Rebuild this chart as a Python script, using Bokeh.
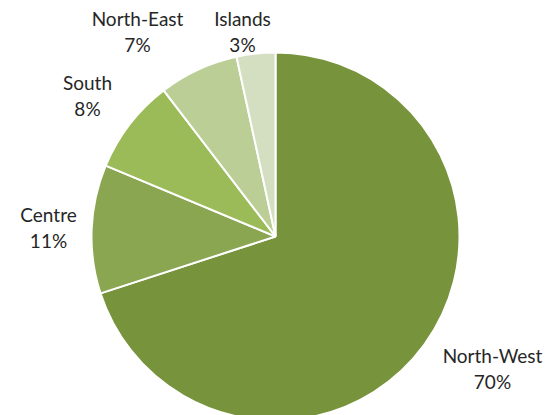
import math
from bokeh.plotting import figure
from bokeh.models import Range1d, ColumnDataSource
from bokeh.core.properties import value
from bokeh.embed import file_html
from bokeh.resources import INLINE

regions = ["North-West", "Centre", "South", "North-East", "Islands"]
shares = [70.0, 11.3, 8.3, 7.0, 3.4]
colors = ["#77933C", "#8AA650", "#9BBB59", "#BACE96", "#D3DFC0"]
label_pos = [(492, 368), (48, 227), (87, 95), (137, 31), (242, 31)]

W, H = 551, 415
FW, FH = 551, 415
p = figure(width=FW, height=FH, output_backend="svg", toolbar_location=None,
           x_range=Range1d(0, FW), y_range=Range1d(H - FH, H),
           min_border=0)
p.axis.visible = False
p.grid.visible = False
p.outline_line_color = None
p.background_fill_color = "white"

total = sum(shares)
starts, ends = [], []
cum = 0.0
for s in shares:
    starts.append(math.pi / 2 - 2 * math.pi * cum / total)
    cum += s
    ends.append(math.pi / 2 - 2 * math.pi * cum / total)

src = ColumnDataSource(dict(start=starts, end=ends, color=colors))
p.wedge(x=275, y=H - 236, radius=184, start_angle="start", end_angle="end",
        direction="clock", fill_color="color", line_color="white", line_width=2,
        source=src)

labels = [f"{r}\n{round(s)}%" for r, s in zip(regions, shares)]
lsrc = ColumnDataSource(dict(x=[lx for lx, ly in label_pos],
                             y=[H - ly for lx, ly in label_pos], t=labels))
p.text(x="x", y="y", text="t", source=lsrc, text_align="center",
       text_baseline="middle", text_font=value("Lato"),
       text_font_size="19px", text_color="#262626", text_line_height=1.15)

open("out.html", "w").write(file_html(p, INLINE))
